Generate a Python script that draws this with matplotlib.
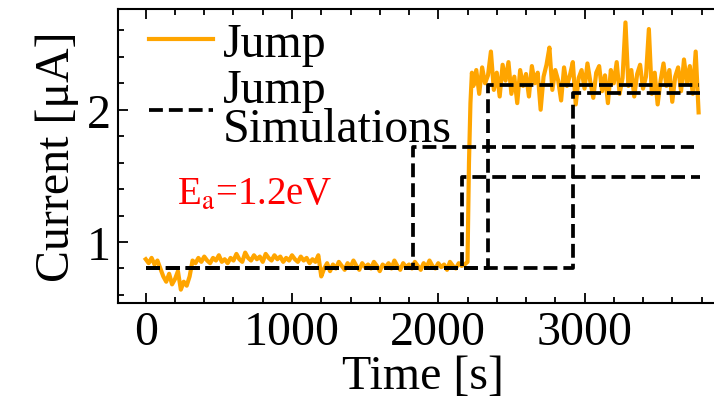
import numpy as np
import matplotlib
matplotlib.use("Agg")
import matplotlib.pyplot as plt
from matplotlib.ticker import MultipleLocator

plt.rcParams['font.family'] = ['Liberation Serif', 'DejaVu Serif']
plt.rcParams['mathtext.fontset'] = 'stix'

# measured current, low phase (every 20 s from 0 to 2200 s)
low_current = [
    0.87, 0.84, 0.88, 0.83, 0.86, 0.80, 0.74, 0.70, 0.76, 0.68,
    0.72, 0.78, 0.64, 0.70, 0.67, 0.74, 0.86, 0.84, 0.88, 0.85,
    0.89, 0.86, 0.84, 0.88, 0.86, 0.90, 0.85, 0.87, 0.84, 0.88,
    0.86, 0.91, 0.87, 0.85, 0.92, 0.88, 0.86, 0.90, 0.87, 0.89,
    0.85, 0.91, 0.88, 0.86, 0.90, 0.87, 0.89, 0.85, 0.88, 0.86,
    0.90, 0.87, 0.85, 0.89, 0.86, 0.88, 0.84, 0.87, 0.85, 0.90,
    0.74, 0.80, 0.84, 0.78, 0.83, 0.80, 0.85, 0.82, 0.79, 0.84,
    0.81, 0.86, 0.82, 0.79, 0.84, 0.81, 0.83, 0.80, 0.85, 0.82,
    0.78, 0.83, 0.81, 0.84, 0.80, 0.86, 0.82, 0.79, 0.84, 0.81,
    0.83, 0.80, 0.85, 0.82, 0.79, 0.84, 0.81, 0.86, 0.82, 0.80,
    0.84, 0.81, 0.83, 0.79, 0.85, 0.82, 0.80, 0.84, 0.82, 0.83,
    0.85,
]
# the jump itself
jump_time = [2210, 2220, 2230]
jump_current = [1.60, 2.05, 2.28]
# high phase (every 20 s from 2240 to 3780 s)
high_current = [
    2.18, 2.30, 2.12, 2.32, 2.20, 2.26, 2.44, 2.15, 2.28, 2.10,
    2.34, 2.22, 2.36, 2.12, 2.25, 2.05, 2.30, 2.18, 2.27, 2.10,
    2.33, 2.20, 2.28, 2.00, 2.25, 2.34, 2.47, 2.15, 2.30, 2.22,
    2.07, 2.32, 2.18, 2.26, 2.36, 2.04, 2.24, 2.30, 2.16, 2.35,
    2.21, 2.09, 2.28, 2.33, 2.14, 2.26, 2.05, 2.30, 2.20, 2.36,
    2.12, 2.24, 2.66, 2.18, 2.30, 2.10, 2.27, 2.34, 2.16, 2.25,
    2.61, 2.12, 2.28, 2.04, 2.22, 2.35, 2.18, 2.30, 2.06, 2.25,
    2.32, 2.14, 2.38, 2.20, 2.33, 2.12, 2.44, 1.98,
]
low_time = list(range(0, 2201, 20))
high_time = list(range(2240, 3781, 20))

time = low_time + jump_time + high_time
current = low_current + jump_current + high_current

# simulated jumps: start level, jump time, level after, end time
sim_base = 0.8
sim_jump = [1827, 2160, 2342, 2924]
sim_level = [1.72, 1.49, 2.19, 2.13]
sim_end = [3750, 3790, 3782, 3790]

fs = 34.5

fig = plt.figure(figsize=(7.14, 4.06), dpi=100)
ax = fig.add_axes([0.1653, 0.2512, 0.854, 0.724])

ax.plot(time, current, color='#FFA500', lw=3.0, label='Jump', zorder=2)
for i in range(len(sim_jump)):
    xs = [0, sim_jump[i], sim_jump[i], sim_end[i]]
    ys = [sim_base, sim_base, sim_level[i], sim_level[i]]
    ax.plot(xs, ys, color='black', ls='--', lw=2.7, zorder=3,
            label='Jump\nSimulations' if i == 0 else None)

ax.text(0.097, 0.37, r'E$_\mathrm{a}$=1.2eV', color='red', fontsize=28,
        transform=ax.transAxes, va='center')

ax.set_xlabel('Time [s]', fontsize=fs, labelpad=0)
ax.set_ylabel('Current [μA]', fontsize=fs, labelpad=6)

ax.xaxis.set_major_locator(MultipleLocator(1000))
ax.xaxis.set_minor_locator(MultipleLocator(200))
ax.yaxis.set_major_locator(MultipleLocator(1))
ax.yaxis.set_minor_locator(MultipleLocator(0.2))
ax.tick_params(which='both', direction='in', top=True, right=True,
               labelsize=fs, width=1.3)
ax.tick_params(which='major', length=7, pad=5)
ax.tick_params(which='minor', length=4)
for s in ax.spines.values():
    s.set_linewidth(1.5)

leg = ax.legend(loc='upper left', bbox_to_anchor=(-0.005, 1.07), frameon=False,
                fontsize=fs, handlelength=1.35, handletextpad=0.2,
                labelspacing=0.05, borderaxespad=0.3)
for t in leg.get_texts():
    t.set_linespacing(0.85)

fig.savefig('out.png', dpi=100)
